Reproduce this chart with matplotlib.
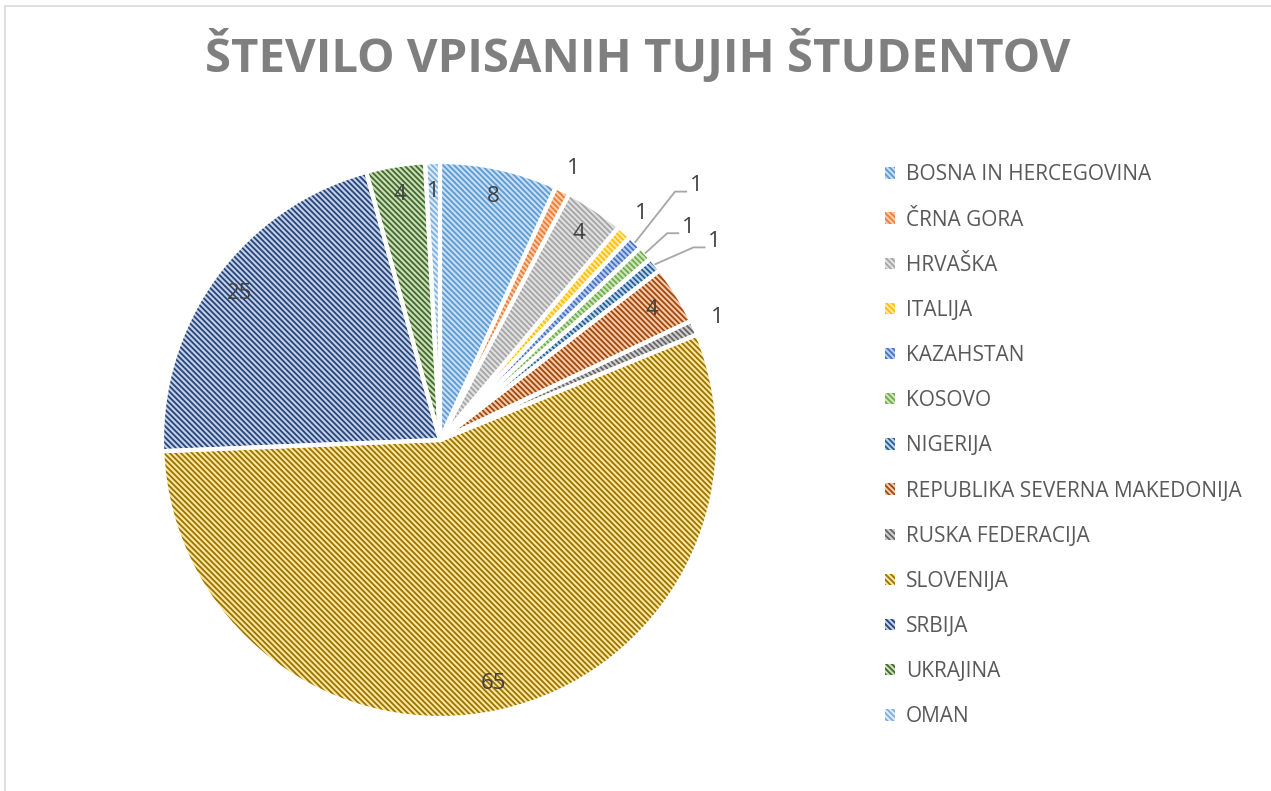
import numpy as np
import matplotlib
matplotlib.use("Agg")
import matplotlib.pyplot as plt
from matplotlib.patches import Patch, Rectangle

plt.rcParams['hatch.linewidth'] = 1.3
plt.rcParams['font.family'] = ['Open Sans', 'DejaVu Sans']

# ---- data ----
countries = ["BOSNA IN HERCEGOVINA", "ČRNA GORA", "HRVAŠKA", "ITALIJA", "KAZAHSTAN",
             "KOSOVO", "NIGERIJA", "REPUBLIKA SEVERNA MAKEDONIJA", "RUSKA FEDERACIJA",
             "SLOVENIJA", "SRBIJA", "UKRAJINA", "OMAN"]
students = [8, 1, 4, 1, 1, 1, 1, 4, 1, 65, 25, 4, 1]
title = "ŠTEVILO VPISANIH TUJIH ŠTUDENTOV"

# ---- style ----
stripe_colors = ['#5B9BD5', '#ED7D31', '#A5A5A5', '#FFC000', '#4472C4', '#70AD47',
                 '#255E91', '#9E480E', '#636363', '#997300', '#264478', '#43682B', '#7CAFDD']
fill_colors = ['#C9DEF2', '#F8CBAD', '#E0E0E0', '#FFE8A3', '#BCCDEB', '#CDE4BE',
               '#BDD3EA', '#F6C9A9', '#CFCFCF', '#FFE6A0', '#C3D0E8', '#C8DFB8', '#DDEBF7']
# label placement: 'in' inside, 'out' outside, 'lead' outside with leader line
placement = ['in', 'out', 'in', 'out', 'lead', 'lead', 'lead', 'in', 'out', 'in', 'in', 'in', 'in']
lead_elbow = {4: (1.23, 1.2), 5: (1.105, 0.0), 6: (1.145, -2.0)}  # (radius, angle offset deg)
HATCH = '\\' * 6

W, H = 1271, 791
fig = plt.figure(figsize=(W / 100, H / 100), dpi=100)

# chart border
fig.patches.append(Rectangle((5 / W, -0.1), 1.2, 1 - 6 / H + 0.1, transform=fig.transFigure,
                             fill=False, edgecolor='#D9D9D9', linewidth=1.2))

cx, cy, R = 440, 440, 278
lim = 1.15
side = 2 * lim * R
ax = fig.add_axes([(cx - side / 2) / W, (H - cy - side / 2) / H, side / W, side / H])

kw = dict(startangle=90, counterclock=False, radius=1.0)
wedges, _ = ax.pie(students, colors=fill_colors, wedgeprops=dict(linewidth=0), **kw)
hw, _ = ax.pie(students, wedgeprops=dict(fill=False, linewidth=0), **kw)
for w, c in zip(hw, stripe_colors):
    w.set_edgecolor(c)
    w.set_hatch(HATCH)
    w.set_linewidth(0)
ew, _ = ax.pie(students, wedgeprops=dict(fill=False, edgecolor='white', linewidth=3.0), **kw)
ax.set_xlim(-lim, lim)
ax.set_ylim(-lim, lim)
ax.set_aspect('equal')
ax.axis('off')

label_color = '#404040'
for i, (w, v) in enumerate(zip(wedges, students)):
    mid_deg = (w.theta1 + w.theta2) / 2
    mid = np.deg2rad(mid_deg)
    ux, uy = np.cos(mid), np.sin(mid)
    p = placement[i]
    if p == 'in':
        ax.text(0.895 * ux, 0.895 * uy, str(v), ha='center', va='center',
                fontsize=16, color=label_color)
    elif p == 'out':
        ax.text(1.09 * ux, 1.09 * uy, str(v), ha='center', va='center',
                fontsize=16, color=label_color)
    else:
        re, dang = lead_elbow[i]
        ea = np.deg2rad(mid_deg + dang)
        x0, y0 = 1.0 * ux, 1.0 * uy
        x1, y1 = re * np.cos(ea), re * np.sin(ea)
        x2 = x1 + 0.04
        ax.plot([x0, x1, x2], [y0, y1, y1], color='#A6A6A6', lw=1.3, clip_on=False)
        ax.text(x2 + 0.012, y1 + 0.022, str(v), ha='left', va='center',
                fontsize=16, color=label_color)

fig.text(637.5 / W, 1 - 56 / H, title, ha='center', va='center', fontsize=34,
         fontweight='bold', color='#7F7F7F')

handles = [Patch(facecolor=f, edgecolor=s, hatch=HATCH, linewidth=0)
           for f, s in zip(fill_colors, stripe_colors)]
leg = fig.legend(handles, countries, loc='upper left',
                 bbox_to_anchor=(877 / W, 1 - 156 / H), frameon=False,
                 fontsize=15, handlelength=0.45, handleheight=0.45, handletextpad=0.55,
                 labelspacing=1.16, borderaxespad=0)
for t in leg.get_texts():
    t.set_color('#595959')

fig.savefig('out.png', dpi=100)
